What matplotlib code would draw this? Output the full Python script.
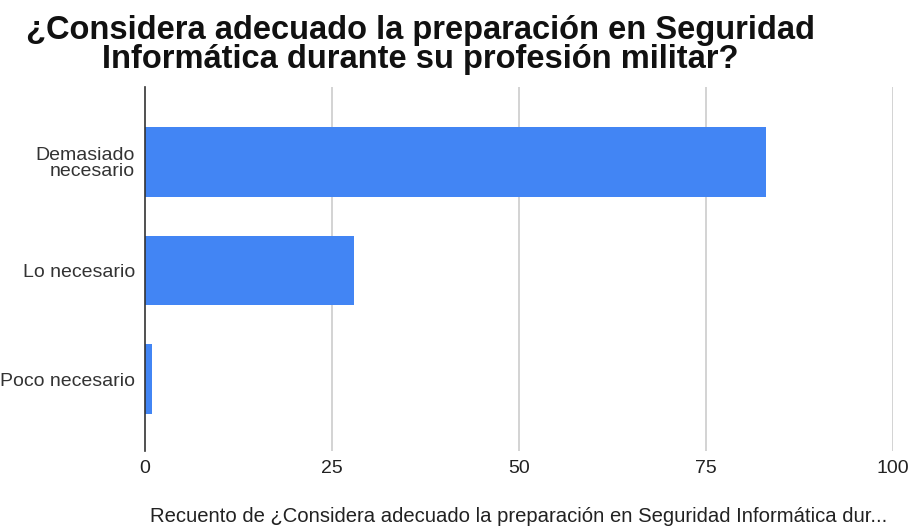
import matplotlib
matplotlib.use("Agg")
import matplotlib.pyplot as plt

plt.rcParams['font.family'] = ['Liberation Sans', 'DejaVu Sans']

categories = ["Demasiado\nnecesario", "Lo necesario", "Poco necesario"]
counts = [83, 28, 1]
x_ticks = [0, 25, 50, 75, 100]

title = "¿Considera adecuado la preparación en Seguridad\nInformática durante su profesión militar?"
x_label = "Recuento de ¿Considera adecuado la preparación en Seguridad Informática dur..."

fig = plt.figure(figsize=(9.14, 5.27), dpi=100)
ax = fig.add_axes([0.1586, 0.1448, 0.8184, 0.6892])

pos = list(range(len(categories)))
ax.barh(pos, counts, height=0.64, color="#4285F4", zorder=3)

ax.set_xlim(0, 100)
ax.set_ylim(len(categories) - 1 + 0.66, -0.687)
ax.set_xticks(x_ticks)
ax.set_xticklabels([str(t) for t in x_ticks], fontsize=14, color="#222222")
ax.set_yticks(pos)
ax.set_yticklabels(categories, fontsize=14, color="#333333", linespacing=0.95)
ax.tick_params(length=0)
ax.tick_params(axis='y', pad=7)
ax.tick_params(axis='x', pad=7)

for t in x_ticks[1:]:
    ax.axvline(t, color="#cccccc", lw=1.2, zorder=1)

for s in ["top", "right", "bottom"]:
    ax.spines[s].set_visible(False)
ax.spines["left"].set_color("#333333")
ax.spines["left"].set_linewidth(1.2)
ax.spines["left"].set_zorder(4)

ax.set_xlabel(x_label, fontsize=14.6, color="#222222", labelpad=21)

fig.text(0.46, 0.972, title, ha="center", va="top", fontsize=23.5,
         fontweight="bold", color="#111111", linespacing=0.92)

fig.savefig("out.png", dpi=100, facecolor="white")
